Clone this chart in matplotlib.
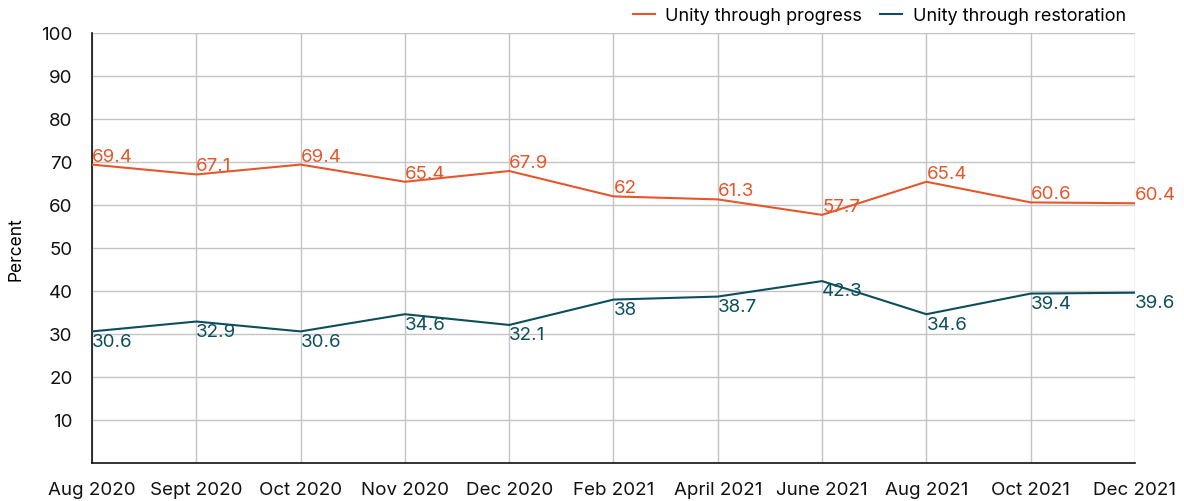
import matplotlib
matplotlib.use("Agg")
import matplotlib.pyplot as plt

plt.rcParams['font.family'] = ['Inter', 'DejaVu Sans']

months = ["Aug 2020", "Sept 2020", "Oct 2020", "Nov 2020", "Dec 2020", "Feb 2021",
          "April 2021", "June 2021", "Aug 2021", "Oct 2021", "Dec 2021"]
progress = [69.4, 67.1, 69.4, 65.4, 67.9, 62, 61.3, 57.7, 65.4, 60.6, 60.4]
restoration = [30.6, 32.9, 30.6, 34.6, 32.1, 38, 38.7, 42.3, 34.6, 39.4, 39.6]
yticks = [10, 20, 30, 40, 50, 60, 70, 80, 90, 100]

c_prog = "#E5562B"
c_rest = "#0D4E5B"

fig = plt.figure(figsize=(11.84, 5.02), dpi=100)
ax = fig.add_axes([0.0777, 0.0757, 0.8809, 0.8566])

x = list(range(len(months)))
ax.plot(x, progress, color=c_prog, lw=1.5, label="Unity through progress", zorder=3)
ax.plot(x, restoration, color=c_rest, lw=1.5, label="Unity through restoration", zorder=3)

for xi, v in zip(x, progress):
    ax.annotate(f"{v:g}", (xi, v), xytext=(0, 0), textcoords="offset points",
                ha="left", va="bottom", color=c_prog, fontsize=13.5)
for xi, v in zip(x, restoration):
    ax.annotate(f"{v:g}", (xi, v), xytext=(0, -1), textcoords="offset points",
                ha="left", va="top", color=c_rest, fontsize=13.5)

ax.set_xlim(0, len(months) - 1)
ax.set_ylim(0, 100)
ax.set_yticks(yticks)
ax.set_xticks(x)
ax.set_xticklabels(months)
ax.tick_params(axis='both', length=0, labelsize=13.5, colors="#111111")
ax.tick_params(axis='x', pad=13)
ax.tick_params(axis='y', pad=14)
ax.grid(True, color="#C4C4C4", lw=1)
ax.set_axisbelow(True)
for s in ["top", "right"]:
    ax.spines[s].set_visible(False)
ax.spines["left"].set_color("#111111")
ax.spines["bottom"].set_color("#111111")
ax.spines["left"].set_linewidth(1.2)
ax.spines["bottom"].set_linewidth(1.2)
ax.set_ylabel("Percent", fontsize=12.5, labelpad=12)

ax.legend(loc="lower right", bbox_to_anchor=(1.0, 1.0), ncol=2, frameon=False,
          fontsize=13, handlelength=1.2, handletextpad=0.6, columnspacing=1.0,
          borderaxespad=0.1)

fig.savefig("out.png", dpi=100)
